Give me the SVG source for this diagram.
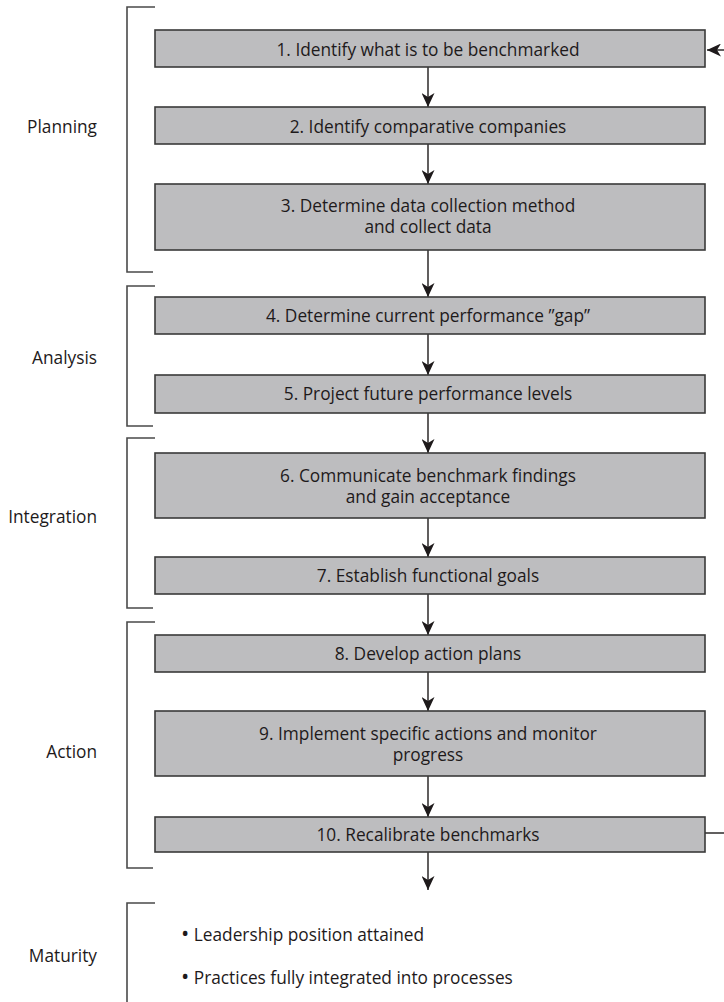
<svg xmlns="http://www.w3.org/2000/svg" width="724" height="1002" viewBox="0 0 724 1002">
<defs>
<style>
.box{fill:#bdbdbf;stroke:#3a3a3a;stroke-width:1.6}
.t{font-family:"Open Sans","Liberation Sans",sans-serif;font-size:17.3px;fill:#1e1a1b;text-anchor:middle}
.lbl{font-family:"Open Sans","Liberation Sans",sans-serif;font-size:17.3px;fill:#1e1a1b;text-anchor:end}
.bl{font-family:"Open Sans","Liberation Sans",sans-serif;font-size:17.3px;fill:#1e1a1b}
.dot{font-size:22px}
.br{fill:none;stroke:#4a4a4a;stroke-width:1.6}
.c{fill:none;stroke:#1e1a1b;stroke-width:1.4}
</style>
<marker id="ah" viewBox="0 0 14 13" refX="14" refY="6.5" markerWidth="14" markerHeight="13" markerUnits="userSpaceOnUse" orient="auto">
<path d="M0,0 L14,6.5 L0,13 L4,6.5 z" fill="#1e1a1b"/>
</marker>
</defs>
<rect width="724" height="1002" fill="#ffffff"/>

<g id="brackets">
<path class="br" d="M155,7 H127 V272 H153"/>
<path class="br" d="M155,286 H127 V426 H153"/>
<path class="br" d="M155,438 H127 V608 H153"/>
<path class="br" d="M155,622 H127 V868 H153"/>
<path class="br" d="M155,903 H127 V1002"/>
</g>

<g id="label-planning"><text class="lbl" x="97" y="133">Planning</text></g>
<g id="label-analysis"><text class="lbl" x="97" y="364">Analysis</text></g>
<g id="label-integration"><text class="lbl" x="97" y="523">Integration</text></g>
<g id="label-action"><text class="lbl" x="97" y="758">Action</text></g>
<g id="label-maturity"><text class="lbl" x="97" y="962">Maturity</text></g>

<g id="connectors">
<line class="c" x1="428" y1="67" x2="428" y2="107" marker-end="url(#ah)"/>
<line class="c" x1="428" y1="144" x2="428" y2="184" marker-end="url(#ah)"/>
<line class="c" x1="428" y1="250" x2="428" y2="297" marker-end="url(#ah)"/>
<line class="c" x1="428" y1="334" x2="428" y2="375" marker-end="url(#ah)"/>
<line class="c" x1="428" y1="413" x2="428" y2="453" marker-end="url(#ah)"/>
<line class="c" x1="428" y1="518" x2="428" y2="557" marker-end="url(#ah)"/>
<line class="c" x1="428" y1="594" x2="428" y2="635" marker-end="url(#ah)"/>
<line class="c" x1="428" y1="672" x2="428" y2="711" marker-end="url(#ah)"/>
<line class="c" x1="428" y1="776" x2="428" y2="817" marker-end="url(#ah)"/>
<line class="c" x1="428" y1="852" x2="428" y2="890" marker-end="url(#ah)"/>
<line class="c" x1="705" y1="833" x2="724" y2="833"/>
<line class="c" x1="724" y1="50" x2="707" y2="50" marker-end="url(#ah)"/>
</g>

<g id="step1"><rect class="box" x="155" y="30" width="550" height="37"/><text class="t" x="428" y="56">1. Identify what is to be benchmarked</text></g>
<g id="step2"><rect class="box" x="155" y="107" width="550" height="37"/><text class="t" x="428" y="133">2. Identify comparative companies</text></g>
<g id="step3"><rect class="box" x="155" y="184" width="550" height="66"/><text class="t" x="428" y="212">3. Determine data collection method</text><text class="t" x="428" y="233">and collect data</text></g>
<g id="step4"><rect class="box" x="155" y="297" width="550" height="37"/><text class="t" x="428" y="322">4. Determine current performance ”gap”</text></g>
<g id="step5"><rect class="box" x="155" y="375" width="550" height="38"/><text class="t" x="428" y="400">5. Project future performance levels</text></g>
<g id="step6"><rect class="box" x="155" y="453" width="550" height="65"/><text class="t" x="428" y="482">6. Communicate benchmark findings</text><text class="t" x="428" y="503">and gain acceptance</text></g>
<g id="step7"><rect class="box" x="155" y="557" width="550" height="37"/><text class="t" x="428" y="582">7. Establish functional goals</text></g>
<g id="step8"><rect class="box" x="155" y="635" width="550" height="37"/><text class="t" x="428" y="660">8. Develop action plans</text></g>
<g id="step9"><rect class="box" x="155" y="711" width="550" height="65"/><text class="t" x="428" y="740">9. Implement specific actions and monitor</text><text class="t" x="428" y="761">progress</text></g>
<g id="step10"><rect class="box" x="155" y="817" width="550" height="35"/><text class="t" x="428" y="841">10. Recalibrate benchmarks</text></g>

<g id="maturity-list">
<text class="bl" x="181" y="941"><tspan class="dot">•</tspan> Leadership position attained</text>
<text class="bl" x="181" y="984"><tspan class="dot">•</tspan> Practices fully integrated into processes</text>
</g>
</svg>
